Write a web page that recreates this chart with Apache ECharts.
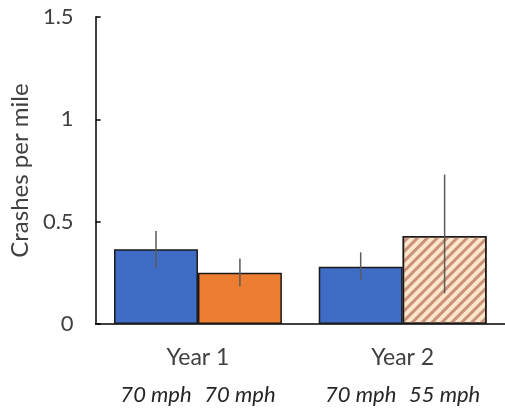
<!DOCTYPE html>
<html>
<head>
<meta charset="utf-8">
<script src="https://cdn.jsdelivr.net/npm/echarts@6/dist/echarts.min.js"></script>
<style>
  html, body { margin: 0; padding: 0; background: #fff; }
  #chart { width: 505px; height: 414px; }
</style>
</head>
<body>
<div id="chart"></div>
<script>
// Crash rates per mile, two years, with speed limit under each bar
const years = ['Year 1', 'Year 2'];
const firstBarSpeeds = ['70 mph', '70 mph'];
const secondBarSpeeds = ['70 mph', '55 mph'];
const firstBarRates = [0.365, 0.28];
const secondBarRates = [0.25, 0.43];
const firstBarLow = [0.275, 0.215];
const firstBarHigh = [0.455, 0.35];
const secondBarLow = [0.185, 0.15];
const secondBarHigh = [0.32, 0.73];
const yTicks = [0, 0.5, 1, 1.5];

const FONT = 'Lato';
const TEXT = '#404040';
const GAP = 0.18;

const chart = echarts.init(document.getElementById('chart'), null, { renderer: 'canvas' });

const speedLabel = (speeds) => ({
  show: true,
  position: 'bottom',
  distance: 60,
  fontFamily: FONT,
  fontStyle: 'italic',
  fontSize: 22,
  color: '#262626',
  formatter: (p) => speeds[p.dataIndex]
});

const hatched = {
  color: '#fde6cb',
  borderColor: '#1a1a1a',
  borderWidth: 1.5,
  decal: {
    symbol: 'rect',
    symbolSize: 1,
    color: '#c99279',
    dashArrayX: [1, 0],
    dashArrayY: [3, 4],
    rotation: -Math.PI / 4
  }
};

const errData = [];
years.forEach((_, i) => {
  errData.push([i, firstBarLow[i], firstBarHigh[i], -1]);
  errData.push([i, secondBarLow[i], secondBarHigh[i], 1]);
});

chart.setOption({
  animation: false,
  grid: { left: 93, right: -4, top: 17, bottom: 90, containLabel: false },
  xAxis: {
    type: 'category',
    data: years,
    axisLine: { lineStyle: { color: '#000', width: 1.5 } },
    axisTick: { show: false },
    axisLabel: { margin: 22, fontFamily: FONT, fontSize: 23, color: TEXT }
  },
  yAxis: {
    type: 'value',
    min: 0,
    max: 1.5,
    interval: 0.5,
    name: 'Crashes per mile',
    nameLocation: 'middle',
    nameGap: 57,
    nameTextStyle: { fontFamily: FONT, fontSize: 24, color: TEXT },
    axisLine: { show: true, lineStyle: { color: '#000', width: 1.5 } },
    axisTick: { show: true, inside: true, length: 5, lineStyle: { color: '#000', width: 1.5 } },
    splitLine: { show: false },
    axisLabel: {
      margin: 22,
      fontFamily: FONT,
      fontSize: 22,
      color: TEXT,
      formatter: (v) => (yTicks.indexOf(v) >= 0 ? String(v) : '')
    }
  },
  series: [
    {
      type: 'bar',
      data: firstBarRates,
      barGap: '0%',
      barCategoryGap: (GAP * 100) + '%',
      itemStyle: { color: '#3f6cc4', borderColor: '#1a1a1a', borderWidth: 1.5 },
      label: speedLabel(firstBarSpeeds)
    },
    {
      type: 'bar',
      data: [
        { value: secondBarRates[0], itemStyle: { color: '#ed7d31', borderColor: '#1a1a1a', borderWidth: 1.5 } },
        { value: secondBarRates[1], itemStyle: hatched }
      ],
      barGap: '0%',
      barCategoryGap: (GAP * 100) + '%',
      label: speedLabel(secondBarSpeeds)
    },
    {
      type: 'custom',
      data: errData,
      encode: { x: 0, y: [1, 2] },
      z: 10,
      renderItem: (params, api) => {
        const band = api.size([1, 0])[0];
        const barW = band * (1 - GAP) / 2;
        const side = api.value(3);
        const lo = api.coord([api.value(0), api.value(1)]);
        const hi = api.coord([api.value(0), api.value(2)]);
        const x = lo[0] + side * barW / 2;
        return {
          type: 'line',
          shape: { x1: x, y1: lo[1], x2: x, y2: hi[1] },
          style: { stroke: '#5a5a5a', lineWidth: 1.5 }
        };
      }
    }
  ]
});
</script>
</body>
</html>
